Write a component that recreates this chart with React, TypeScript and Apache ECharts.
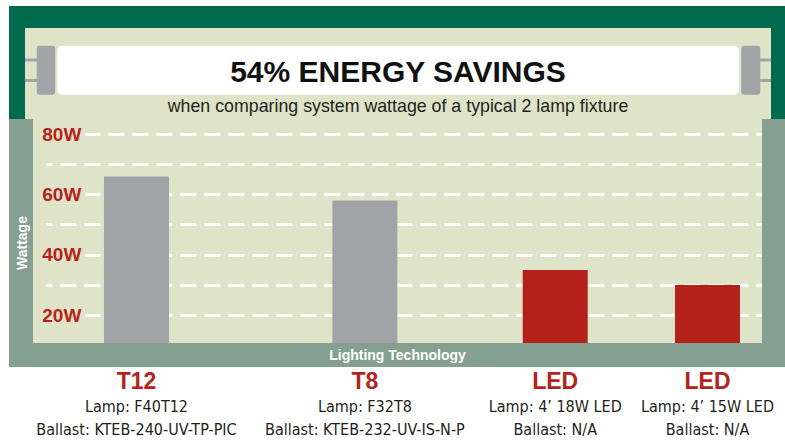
import React, { useEffect, useRef } from "react";
import * as echarts from "echarts";

// ---- data ----
const categories = ["T12", "T8", "LED", "LED"];
const lamps = ["Lamp: F40T12", "Lamp: F32T8", "Lamp: 4’ 18W LED", "Lamp: 4’ 15W LED"];
const ballasts = [
  "Ballast: KTEB-240-UV-TP-PIC",
  "Ballast: KTEB-232-UV-IS-N-P",
  "Ballast: N/A",
  "Ballast: N/A",
];
const wattage = [66, 58, 35, 30];
const isLed = [false, false, true, true];
const yLabelValues = [20, 40, 60, 80];
const title = "54% ENERGY SAVINGS";
const subtitle = "when comparing system wattage of a typical 2 lamp fixture";
const yAxisName = "Wattage";
const xAxisName = "Lighting Technology";

// layout: slot index of each product on a 19-slot category axis
const slotIndex = [2, 8, 13, 17];
const slotCount = 19;

const DARK_GREEN = "#006a4e";
const LIGHT = "#dfe4c8";
const GREY_GREEN = "#85a090";
const GREY_BAR = "#a2a3a7";
const RED = "#b3221a";
const RED_TEXT = "#b5231c";
const CAP = "#a3a4a8";
const SANS = "'Liberation Sans', Arial, sans-serif";
const NARROW = "'Liberation Sans Narrow', 'DejaVu Sans Condensed', 'Liberation Sans', sans-serif";

export default function App() {
  const ref = useRef<HTMLDivElement>(null);
  useEffect(() => {
    if (!ref.current) return;
    const chart = echarts.init(ref.current, undefined, { renderer: "svg" });

    const axisData: string[] = [];
    const barData: any[] = [];
    for (let i = 0; i < slotCount; i++) {
      const j = slotIndex.indexOf(i);
      axisData.push(j < 0 ? "s" + i : "c" + j);
      if (j < 0) barData.push("-");
      else
        barData.push({
          value: wattage[j],
          itemStyle: { color: isLed[j] ? RED : GREY_BAR },
        });
    }

    const rect = (x: number, y: number, w: number, h: number, fill: string, z: number, r = 0) => ({
      type: "rect",
      shape: { x, y, width: w, height: h, r },
      style: { fill },
      z,
      silent: true,
    });

    const option: any = {
      animation: false,
      grid: { left: 41.3, top: 119.1, width: 723.3, height: 226.3, containLabel: false },
      xAxis: {
        type: "category",
        data: axisData,
        z: 12,
        axisLine: { show: false },
        axisTick: { show: false },
        splitLine: { show: false },
        axisLabel: {
          interval: 0,
          margin: 21,
          formatter: (v: string) => {
            if (v[0] !== "c") return "";
            const j = parseInt(v.slice(1), 10);
            return `{t|${categories[j]}}\n{l|${lamps[j]}}\n{l|${ballasts[j]}}`;
          },
          rich: {
            t: { fontSize: 23, fontWeight: "bold", color: RED_TEXT, lineHeight: 29, fontFamily: SANS, align: "center" },
            l: { fontSize: 16, color: "#231f20", lineHeight: 23, fontFamily: NARROW, align: "center" },
          },
        },
      },
      yAxis: {
        type: "value",
        min: 10,
        max: 85,
        interval: 10,
        z: 3,
        axisLine: { show: false },
        axisTick: { show: false },
        splitLine: {
          show: true,
          showMinLine: false,
          showMaxLine: false,
          lineStyle: { color: "#ffffff", width: 3, type: [16, 8], dashOffset: 5 },
        },
        axisLabel: {
          inside: true,
          margin: 0,
          showMinLabel: false,
          showMaxLabel: false,
          formatter: (v: number) => (yLabelValues.indexOf(v) >= 0 ? v + "W" : ""),
          color: RED_TEXT,
          fontSize: 19,
          fontWeight: "bold",
          fontFamily: SANS,
          backgroundColor: LIGHT,
          padding: [2, 4, 2, 1],
          verticalAlign: "middle",
        },
      },
      series: [
        {
          type: "bar",
          data: barData,
          barWidth: 65,
          z: 5,
          silent: true,
        },
      ],
      graphic: {
        elements: [
          rect(9, 6, 776, 114, DARK_GREEN, 1),
          rect(25, 28, 746, 92, LIGHT, 1),
          rect(9, 119, 776, 248, GREY_GREEN, 1),
          rect(33, 119, 729, 225, LIGHT, 1),
          // overlay bands (frame) above bars
          rect(9, 343, 776, 24, GREY_GREEN, 10),
          rect(9, 119, 24, 248, GREY_GREEN, 10),
          rect(762, 119, 23, 248, GREY_GREEN, 10),
          // lamp tube
          rect(25, 58.5, 13, 3, CAP, 2),
          rect(25, 79, 13, 3, CAP, 2),
          rect(760, 58.5, 11, 3, CAP, 2),
          rect(760, 79, 11, 3, CAP, 2),
          rect(36.7, 45.7, 18.5, 49, CAP, 3, 3),
          rect(741.3, 45.7, 19, 49, CAP, 3, 3),
          rect(57.3, 45.7, 681.7, 49, "#ffffff", 3, 5),
          {
            type: "text",
            x: 398,
            y: 71,
            z: 11,
            style: {
              text: title,
              fill: "#111111",
              fontSize: 30,
              fontWeight: "bold",
              fontFamily: SANS,
              align: "center",
              verticalAlign: "middle",
            },
          },
          {
            type: "text",
            x: 398,
            y: 106,
            z: 11,
            style: {
              text: subtitle,
              fill: "#231f20",
              fontSize: 17.8,
              fontFamily: SANS,
              align: "center",
              verticalAlign: "middle",
            },
          },
          {
            type: "text",
            x: 397.5,
            y: 355,
            z: 11,
            style: {
              text: xAxisName,
              fill: "#ffffff",
              fontSize: 14,
              fontWeight: "bold",
              fontFamily: SANS,
              align: "center",
              verticalAlign: "middle",
            },
          },
          {
            type: "text",
            x: 22,
            y: 243,
            z: 11,
            rotation: Math.PI / 2,
            style: {
              text: yAxisName,
              fill: "#ffffff",
              fontSize: 14,
              fontWeight: "bold",
              fontFamily: SANS,
              align: "center",
              verticalAlign: "middle",
            },
          },
        ],
      },
    };
    chart.setOption(option);
    return () => chart.dispose();
  }, []);
  return (
    <div
      ref={ref}
      style={{ position: "absolute", left: 0, top: 0, width: 785, height: 441, background: "#ffffff" }}
    />
  );
}
